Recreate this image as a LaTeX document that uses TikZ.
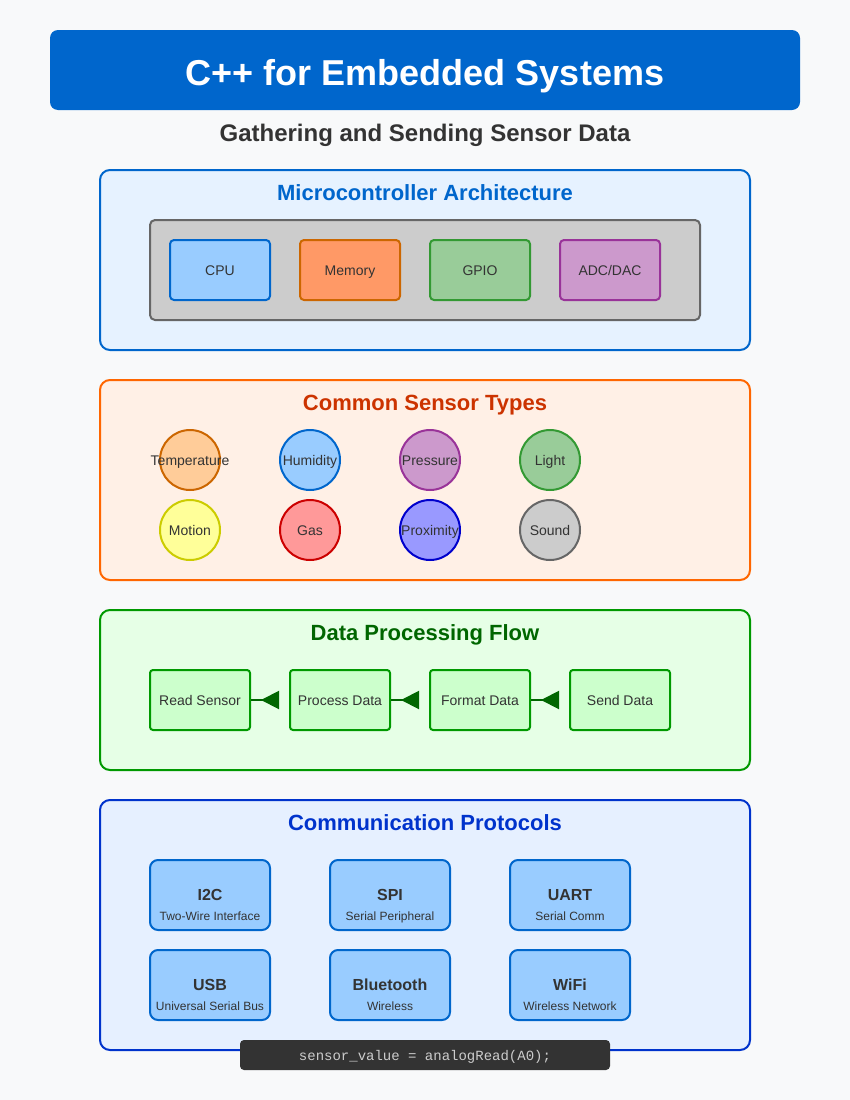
\documentclass[tikz,border=0pt]{standalone}
\usepackage{fontspec}
\setmainfont{Liberation Sans}
\setmonofont{Liberation Mono}
\usetikzlibrary{arrows.meta,calc}
\definecolor{bgc}{HTML}{F8F9FA}
\definecolor{titleblue}{HTML}{0066CC}
\definecolor{txt}{HTML}{333333}
\definecolor{s1fill}{HTML}{E6F2FF}
\definecolor{s2fill}{HTML}{FFF0E6}
\definecolor{s2draw}{HTML}{FF6600}
\definecolor{s2title}{HTML}{CC3300}
\definecolor{s3fill}{HTML}{E6FFE6}
\definecolor{s3draw}{HTML}{009900}
\definecolor{s3title}{HTML}{006600}
\definecolor{s4fill}{HTML}{E6F0FF}
\definecolor{s4draw}{HTML}{0033CC}
\definecolor{grayfill}{HTML}{CCCCCC}
\definecolor{graydraw}{HTML}{666666}
\definecolor{cpuf}{HTML}{99CCFF}
\definecolor{memf}{HTML}{FF9966}
\definecolor{memd}{HTML}{CC6600}
\definecolor{gpiof}{HTML}{99CC99}
\definecolor{gpiod}{HTML}{339933}
\definecolor{adcf}{HTML}{CC99CC}
\definecolor{adcd}{HTML}{993399}
\definecolor{tempf}{HTML}{FFCC99}
\definecolor{motf}{HTML}{FFFF99}
\definecolor{motd}{HTML}{CCCC00}
\definecolor{gasf}{HTML}{FF9999}
\definecolor{gasd}{HTML}{CC0000}
\definecolor{proxf}{HTML}{9999FF}
\definecolor{proxd}{HTML}{0000CC}
\definecolor{flowf}{HTML}{CCFFCC}
\definecolor{codebg}{HTML}{333333}
\definecolor{codetxt}{HTML}{CCCCCC}
\tikzset{
  section/.style={draw, line width=2pt, rounded corners=10pt, inner sep=0pt},
  sectitle/.style={font=\bfseries\fontsize{22}{26}\selectfont, anchor=base, inner sep=0pt},
  lbl/.style={text=txt, font=\fontsize{14}{16}\selectfont, text height=10pt, text depth=0pt},
  mcubox/.style={lbl, draw, line width=2pt, rounded corners=4pt, minimum width=100pt, minimum height=60pt, inner sep=0pt},
  sensor/.style={circle, draw, line width=2pt, minimum size=60pt, inner sep=0pt},
  sensortext/.style={lbl, inner sep=0pt},
  flowbox/.style={lbl, draw=s3draw, fill=flowf, line width=2pt, rounded corners=3pt, minimum width=100pt, minimum height=60pt, inner sep=0pt},
  flowarrow/.style={draw=s3title, line width=2pt, -{Triangle[reversed,length=18pt,width=18pt]}},
  protobox/.style={draw=titleblue, fill=cpuf, line width=2pt, rounded corners=8pt, minimum width=120pt, minimum height=70pt, inner sep=0pt},
  protohead/.style={anchor=base, inner sep=0pt, text=txt, font=\bfseries\fontsize{16}{18}\selectfont},
  protosub/.style={anchor=base, inner sep=0pt, text=txt, font=\fontsize{12}{14}\selectfont},
}
\begin{document}
\begin{tikzpicture}[x=1pt,y=-1pt]
\fill[bgc] (0,0) rectangle (850,1100);
\useasboundingbox (0,0) rectangle (850,1100);
% title
\node[fill=titleblue, rounded corners=8pt, minimum width=750pt, minimum height=80pt, inner sep=0pt, text=white, font=\bfseries\fontsize{36}{40}\selectfont, text height=30pt, text depth=0pt] (title) at (425,70) {C++ for Embedded Systems};
\node[anchor=base, inner sep=0pt, text=txt, font=\bfseries\fontsize{24}{28}\selectfont] (subtitle) at (425,141) {Gathering and Sending Sensor Data};
% section 1
\node[section, draw=titleblue, fill=s1fill, minimum width=650pt, minimum height=180pt] (sec1) at (425,260) {};
\node[sectitle, text=titleblue] (sec1t) at (425,200) {Microcontroller Architecture};
\node[draw=graydraw, fill=grayfill, line width=2pt, rounded corners=5pt, minimum width=550pt, minimum height=100pt, inner sep=0pt] (mcu) at (425,270) {};
\node[mcubox, draw=titleblue, fill=cpuf] (cpu) at (220,270) {CPU};
\node[mcubox, draw=memd, fill=memf] (mem) at (350,270) {Memory};
\node[mcubox, draw=gpiod, fill=gpiof] (gpio) at (480,270) {GPIO};
\node[mcubox, draw=adcd, fill=adcf] (adc) at (610,270) {ADC/DAC};
% section 2
\node[section, draw=s2draw, fill=s2fill, minimum width=650pt, minimum height=200pt] (sec2) at (425,480) {};
\node[sectitle, text=s2title] (sec2t) at (425,410) {Common Sensor Types};
\node[sensor, draw=memd, fill=tempf, label={[sensortext]center:Temperature}] (temp) at (190,460) {};
\node[sensor, draw=titleblue, fill=cpuf, label={[sensortext]center:Humidity}] (hum) at (310,460) {};
\node[sensor, draw=adcd, fill=adcf, label={[sensortext]center:Pressure}] (pres) at (430,460) {};
\node[sensor, draw=gpiod, fill=gpiof, label={[sensortext]center:Light}] (light) at (550,460) {};
\node[sensor, draw=motd, fill=motf, label={[sensortext]center:Motion}] (motion) at (190,530) {};
\node[sensor, draw=gasd, fill=gasf, label={[sensortext]center:Gas}] (gas) at (310,530) {};
\node[sensor, draw=proxd, fill=proxf, label={[sensortext]center:Proximity}] (prox) at (430,530) {};
\node[sensor, draw=graydraw, fill=grayfill, label={[sensortext]center:Sound}] (sound) at (550,530) {};
% section 3
\node[section, draw=s3draw, fill=s3fill, minimum width=650pt, minimum height=160pt] (sec3) at (425,690) {};
\node[sectitle, text=s3title] (sec3t) at (425,640) {Data Processing Flow};
\node[flowbox] (read) at (200,700) {Read Sensor};
\node[flowbox] (proc) at (340,700) {Process Data};
\node[flowbox] (fmt) at (480,700) {Format Data};
\node[flowbox] (send) at (620,700) {Send Data};
\draw[flowarrow] (read.east) -- ($(proc.west)+(-10,0)$);
\draw[flowarrow] (proc.east) -- ($(fmt.west)+(-10,0)$);
\draw[flowarrow] (fmt.east) -- ($(send.west)+(-10,0)$);
% section 4
\node[section, draw=s4draw, fill=s4fill, minimum width=650pt, minimum height=250pt] (sec4) at (425,925) {};
\node[sectitle, text=s4draw] (sec4t) at (425,830) {Communication Protocols};
\node[protobox] (i2c) at (210,895) {};
\node[protobox] (spi) at (390,895) {};
\node[protobox] (uart) at (570,895) {};
\node[protobox] (usb) at (210,985) {};
\node[protobox] (bt) at (390,985) {};
\node[protobox] (wifi) at (570,985) {};
\foreach \n/\h/\s in {i2c/I2C/Two-Wire Interface, spi/SPI/Serial Peripheral, uart/UART/Serial Comm, usb/USB/Universal Serial Bus, bt/Bluetooth/Wireless, wifi/WiFi/Wireless Network}{
  \node[protohead] (\n h) at ($(\n.center)+(0,5)$) {\h};
  \node[protosub] (\n s) at ($(\n.center)+(0,25)$) {\s};
}
% code
\node[fill=codebg, rounded corners=4pt, minimum width=370pt, minimum height=30pt, inner sep=0pt] (code) at (425,1055) {};
\node[anchor=base, inner sep=0pt, text=codetxt, font=\ttfamily\fontsize{14}{16}\selectfont] (codetext) at (425,1060) {sensor\_value = analogRead(A0);};
\end{tikzpicture}
\end{document}
